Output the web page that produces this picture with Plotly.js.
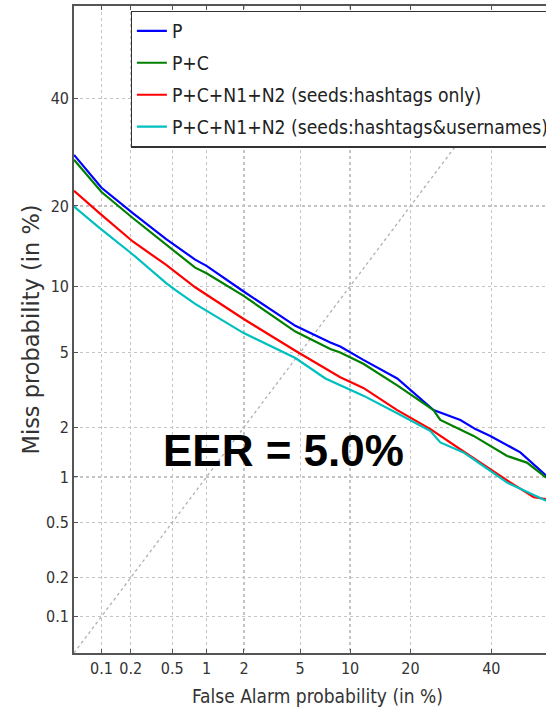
<!DOCTYPE html>
<html>
<head>
<meta charset="utf-8">
<script src="https://cdn.plot.ly/plotly-3.0.1.min.js"></script>
<style>
html,body{margin:0;padding:0;overflow:hidden;background:#fff;width:546px;height:709px;}
#chart{width:570px;height:709px;}
</style>
</head>
<body>
<div id="chart"></div>
<script>
// ---- data (percent) ----
const tickPercents = [0.1, 0.2, 0.5, 1, 2, 5, 10, 20, 40];
const tickLabels = ["0.1", "0.2", "0.5", "1", "2", "5", "10", "20", "40"];

const seriesNames = [
  "P",
  "P+C",
  "P+C+N1+N2 (seeds:hashtags only)",
  "P+C+N1+N2 (seeds:hashtags&usernames)"
];
const seriesColors = ["#0000ff", "#008000", "#ff0000", "#00bfbf"];

const faP    = [0.05, 0.1, 0.21, 0.44, 0.8, 1.0, 1.99, 4.65, 7.7, 8.8, 11.8, 17.4, 25.0, 31.6, 35.6, 39.7, 48.3, 55.8];
const missP  = [28.7, 22.9, 18.9, 15.3, 12.8, 12.1, 9.5, 6.7, 5.6, 5.35, 4.6, 3.7, 2.5, 2.2, 1.95, 1.78, 1.42, 1.02];

const faPC   = [0.05, 0.1, 0.21, 0.44, 0.8, 1.0, 1.99, 4.65, 7.7, 8.8, 11.8, 17.4, 25.0, 26.6, 35.1, 44.5, 50.2, 55.8];
const missPC = [27.8, 22.2, 18.2, 14.6, 11.9, 11.3, 9.1, 6.3, 5.2, 5.0, 4.4, 3.4, 2.5, 2.2, 1.78, 1.35, 1.23, 0.99];

const faH    = [0.05, 0.095, 0.21, 0.44, 0.8, 1.99, 4.65, 7.7, 8.8, 11.8, 17.4, 24.3, 26.6, 34.2, 44.5, 52.2, 55.8];
const missH  = [22.4, 18.9, 15.0, 12.2, 9.9, 7.2, 5.1, 4.0, 3.75, 3.3, 2.5, 1.95, 1.78, 1.35, 0.95, 0.74, 0.72];

const faHU   = [0.05, 0.095, 0.21, 0.44, 0.54, 0.8, 1.99, 4.65, 7.2, 7.7, 11.8, 17.4, 24.3, 26.6, 32.4, 35.1, 44.5, 55.8];
const missHU = [19.9, 16.8, 13.4, 10.3, 9.6, 8.4, 6.2, 4.7, 3.7, 3.6, 3.0, 2.4, 1.9, 1.63, 1.42, 1.29, 0.92, 0.70];

const diagP = [0.05, 60];
const axisRangeP = [0.05, 60];
const eerText = "EER = 5.0%";

// ---- probit (normal deviate) scale ----
function probit(p) {
  const a = [-3.969683028665376e+01, 2.209460984245205e+02, -2.759285104469687e+02, 1.383577518672690e+02, -3.066479806614716e+01, 2.506628277459239e+00];
  const b = [-5.447609879822406e+01, 1.615858368580409e+02, -1.556989798598866e+02, 6.680131188771972e+01, -1.328068155288572e+01];
  const c = [-7.784894002430293e-03, -3.223964580411365e-01, -2.400758277161838e+00, -2.549732539343734e+00, 4.374664141464968e+00, 2.938163982698783e+00];
  const d = [7.784695709041462e-03, 3.224671290700398e-01, 2.445134137142996e+00, 3.754408661907416e+00];
  const plow = 0.02425, phigh = 1 - plow;
  let q, r;
  if (p < plow) {
    q = Math.sqrt(-2 * Math.log(p));
    return (((((c[0]*q+c[1])*q+c[2])*q+c[3])*q+c[4])*q+c[5]) / ((((d[0]*q+d[1])*q+d[2])*q+d[3])*q+1);
  } else if (p <= phigh) {
    q = p - 0.5; r = q*q;
    return (((((a[0]*r+a[1])*r+a[2])*r+a[3])*r+a[4])*r+a[5])*q / (((((b[0]*r+b[1])*r+b[2])*r+b[3])*r+b[4])*r+1);
  } else {
    q = Math.sqrt(-2 * Math.log(1 - p));
    return -(((((c[0]*q+c[1])*q+c[2])*q+c[3])*q+c[4])*q+c[5]) / ((((d[0]*q+d[1])*q+d[2])*q+d[3])*q+1);
  }
}
const pz = arr => arr.map(v => probit(v / 100));

const condFont = "'DejaVu Sans Condensed', 'Liberation Sans Narrow', 'DejaVu Sans', sans-serif";

const xs = [faP, faPC, faH, faHU];
const ys = [missP, missPC, missH, missHU];

const traces = [{
  x: pz(diagP), y: pz(diagP), mode: "lines", showlegend: false, hoverinfo: "skip",
  line: {color: "#b0b0b0", width: 1.3, dash: "dot"}
}];
for (let i = 0; i < 4; i++) {
  traces.push({
    x: pz(xs[i]), y: pz(ys[i]), mode: "lines", name: seriesNames[i],
    legendgroup: "g" + i,
    line: {color: seriesColors[i], width: 2.2}
  });
}

const axisCommon = {
  range: pz(axisRangeP),
  tickvals: pz(tickPercents),
  ticktext: tickLabels,
  showgrid: true, gridcolor: "#c4c4c4", griddash: "dot", gridwidth: 1.2,
  zeroline: false,
  showline: true, linecolor: "#555555", linewidth: 1.8, mirror: "allticks",
  ticks: "inside", ticklen: 4, tickcolor: "#555555",
  tickfont: {family: condFont, size: 16, color: "#333"},
  fixedrange: true
};

const layout = {
  width: 570, height: 709,
  margin: {l: 74, r: 9, t: 6, b: 56},
  paper_bgcolor: "#fff", plot_bgcolor: "#fff",
  showlegend: true,
  legend: {
    x: 0.1162, y: 0.993, xanchor: "left", yanchor: "top",
    bgcolor: "#fff", bordercolor: "#333", borderwidth: 1.3,
    font: {family: condFont, size: 19.2, color: "#222"},
    tracegroupgap: 4, traceorder: "grouped"
  },
  xaxis: Object.assign({}, axisCommon, {
    title: {text: "False Alarm probability (in %)", font: {family: condFont, size: 19, color: "#333"}, standoff: 13}
  }),
  yaxis: Object.assign({}, axisCommon, {
    title: {text: "Miss probability (in %)", font: {family: "'DejaVu Sans', sans-serif", size: 22.5, color: "#333"}, standoff: 0}
  }),
  annotations: [{
    text: eerText, xref: "paper", yref: "paper", x: 0.431, y: 0.3125,
    xanchor: "center", yanchor: "middle", showarrow: false,
    font: {family: "'Liberation Sans', Arial, sans-serif", size: 44, color: "#000", weight: "bold"}
  }]
};

Plotly.newPlot("chart", traces, layout, {staticPlot: true, displayModeBar: false});
</script>
</body>
</html>
